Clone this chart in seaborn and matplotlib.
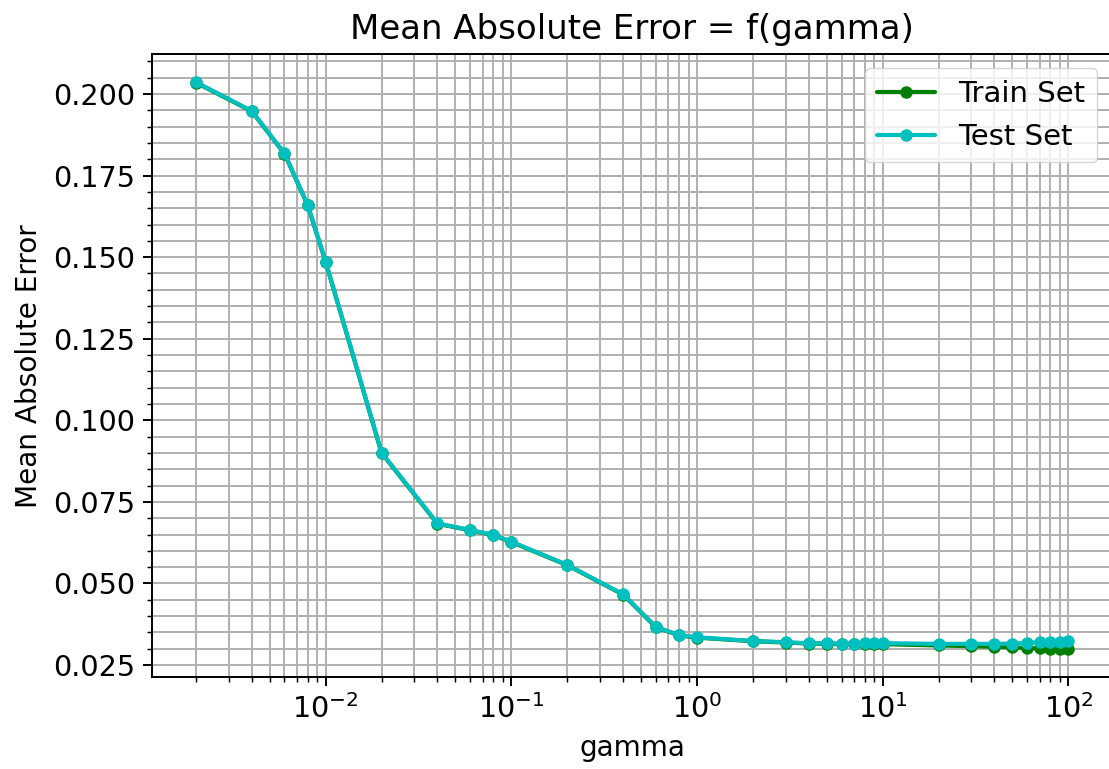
import pandas as pd
import matplotlib.pyplot as plt
import seaborn as sns

# gamma values swept in the grid search
gamma = [0.002, 0.004, 0.006, 0.008, 0.01, 0.02, 0.04, 0.06, 0.08, 0.1,
         0.2, 0.4, 0.6, 0.8, 1, 2, 3, 4, 5, 6, 7, 8, 9, 10,
         20, 30, 40, 50, 60, 70, 80, 90, 100]

# mean absolute error
mae_train = [0.2035, 0.1947, 0.1817, 0.1659, 0.1485, 0.0900, 0.0683, 0.0663, 0.0648, 0.0627,
             0.0556, 0.0466, 0.0366, 0.0341, 0.0334, 0.0323, 0.0319, 0.0316, 0.0315, 0.0314,
             0.0314, 0.0314, 0.0314, 0.0314, 0.0310, 0.0308, 0.0306, 0.0304, 0.0302, 0.0301,
             0.0300, 0.0300, 0.0299]
mae_test = [0.2036, 0.1948, 0.1818, 0.1660, 0.1486, 0.0901, 0.0684, 0.0664, 0.0649, 0.0628,
            0.0557, 0.0467, 0.0367, 0.0342, 0.0335, 0.0324, 0.0320, 0.0317, 0.0317, 0.0316,
            0.0316, 0.0317, 0.0317, 0.0317, 0.0315, 0.0315, 0.0315, 0.0316, 0.0318, 0.0320,
            0.0321, 0.0322, 0.0324]

df = pd.DataFrame({'gamma': gamma, 'train': mae_train, 'test': mae_test})

sns.set_style('ticks')
s = 1.75  # everything scaled like a high-dpi default matplotlib figure
plt.rcParams.update({
    'font.family': ['DejaVu Sans'],
    'text.color': 'black', 'axes.labelcolor': 'black',
    'axes.linewidth': 0.8 * s,
    'xtick.major.size': 3.5 * s, 'ytick.major.size': 3.5 * s,
    'xtick.minor.size': 2 * s, 'ytick.minor.size': 2 * s,
    'xtick.major.width': 0.8 * s, 'ytick.major.width': 0.8 * s,
    'xtick.minor.width': 0.6 * s, 'ytick.minor.width': 0.6 * s,
    'xtick.major.pad': 3.5 * s, 'ytick.major.pad': 3.5 * s,
    'xtick.color': 'black', 'ytick.color': 'black',
    'axes.edgecolor': 'black',
})

fig = plt.figure(figsize=(11.09, 7.69), dpi=100)
ax = fig.add_axes([0.1373, 0.1191, 0.8654, 0.8108])

sns.lineplot(data=df, x='gamma', y='train', ax=ax, color='g', marker='o',
             markersize=9, markeredgewidth=0, linewidth=3, label='Train Set')
sns.lineplot(data=df, x='gamma', y='test', ax=ax, color='c', marker='o',
             markersize=9, markeredgewidth=0, linewidth=3, label='Test Set')

ax.set_xscale('log')
ax.minorticks_on()
ax.grid(True, which='both', color='#b0b0b0', linewidth=0.8 * s)
ax.set_axisbelow(True)

ax.set_title('Mean Absolute Error = f(gamma)', fontsize=14 * s, pad=6 * s, color='black')
ax.set_xlabel('gamma', fontsize=11.5 * s, labelpad=4 * s)
ax.set_ylabel('Mean Absolute Error', fontsize=11.5 * s, labelpad=4 * s)
ax.tick_params(axis='both', which='major', labelsize=11.8 * s, labelcolor='black')
ax.set_yticks([0.025, 0.050, 0.075, 0.100, 0.125, 0.150, 0.175, 0.200])
ax.yaxis.set_major_formatter(plt.FuncFormatter(lambda v, loc: "{:.3f}".format(v)))
ax.minorticks_on()

ax.legend(loc='upper right', fontsize=12 * s, framealpha=0.8,
          borderpad=0.4, handlelength=2.0)

plt.savefig('out.png', dpi=100)
plt.close()
